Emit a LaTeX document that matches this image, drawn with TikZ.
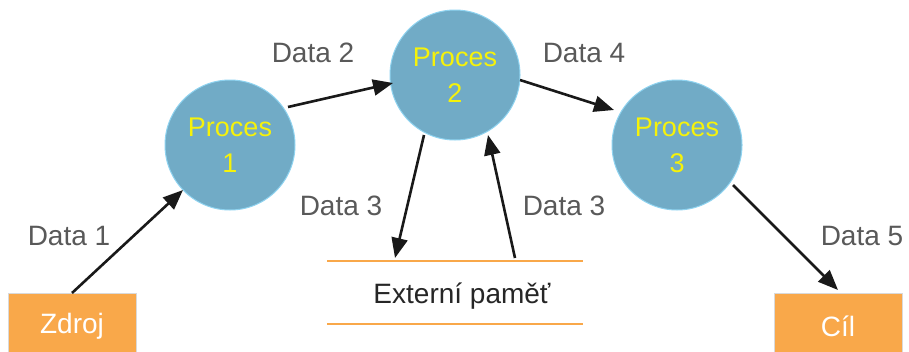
\documentclass[tikz,border=0pt]{standalone}
\usepackage{fontspec}
\setmainfont{Liberation Sans}
\usetikzlibrary{arrows.meta}
\definecolor{procfill}{HTML}{71ABC6}
\definecolor{procline}{HTML}{8FD3F0}
\definecolor{proctext}{HTML}{F6F20A}
\definecolor{boxfill}{HTML}{F9A84A}
\definecolor{lbl}{HTML}{595959}
\definecolor{storeline}{HTML}{F9A84A}
\tikzset{
  x=1pt, y=-1pt,
  proc/.style={circle, fill=procfill, draw=procline, line width=1pt, minimum size=130pt, inner sep=0pt,
    text=proctext, align=center, font=\fontsize{27}{36}\selectfont},
  term/.style={rectangle, fill=boxfill, draw=black!15, line width=0.6pt,
    minimum width=128pt, minimum height=70pt, anchor=north west},
  termtext/.style={text=white, font=\fontsize{28}{30}\selectfont},
  lab/.style={text=lbl, font=\fontsize{28}{30}\selectfont},
  flow/.style={draw=black!90, line width=2.6pt, -{Triangle[length=20pt,width=16pt]}},
  store/.style={draw=storeline, line width=2.4pt},
}
\begin{document}
\begin{tikzpicture}
\useasboundingbox (0,0) rectangle (909,351);
\node[proc] (p1) at (230,145) {Proces\\1};
\node[proc] (p2) at (455,75) {Proces\\2};
\node[proc] (p3) at (677,145) {Proces\\3};
\node[term] (src) at (8,293) {};
\node[termtext] (srct) at (72,326) {Zdroj};
\node[term] (dst) at (774,293) {};
\node[termtext] (dstt) at (838,326) {Cíl};
\coordinate (st1) at (327,261);
\coordinate (st2) at (583,261);
\coordinate (sb1) at (327,324);
\coordinate (sb2) at (583,324);
\draw[store] (st1) -- (st2);
\draw[store] (sb1) -- (sb2);
\node[text=black!85, font=\fontsize{28}{30}\selectfont] (ext) at (462,296) {Externí paměť};
\coordinate (a1s) at (72,293);
\coordinate (a1e) at (183,190);
\draw[flow] (a1s) -- (a1e);
\coordinate (a2s) at (288,107);
\coordinate (a2e) at (393,83);
\draw[flow] (a2s) -- (a2e);
\coordinate (a4s) at (520,80);
\coordinate (a4e) at (614,110);
\draw[flow] (a4s) -- (a4e);
\coordinate (a3s) at (424,135);
\coordinate (a3e) at (395,258);
\draw[flow] (a3s) -- (a3e);
\coordinate (b3s) at (515,258);
\coordinate (b3e) at (488,135);
\draw[flow] (b3s) -- (b3e);
\coordinate (a5s) at (733,185);
\coordinate (a5e) at (838,290);
\draw[flow] (a5s) -- (a5e);
\node[lab] (l1) at (69,236) {Data 1};
\node[lab] (l2) at (313,53) {Data 2};
\node[lab] (l4) at (584,53) {Data 4};
\node[lab] (l3a) at (341,206) {Data 3};
\node[lab] (l3b) at (564,206) {Data 3};
\node[lab] (l5) at (862,236) {Data 5};
\end{tikzpicture}
\end{document}
